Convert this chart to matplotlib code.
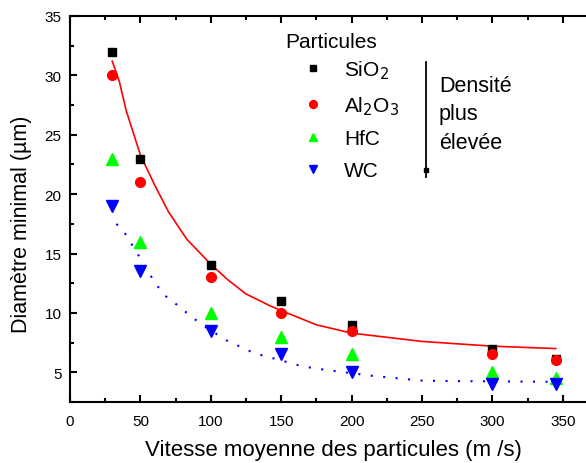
import matplotlib
matplotlib.use("Agg")
import matplotlib.pyplot as plt
from matplotlib.ticker import MultipleLocator

plt.rcParams['font.family'] = ['Liberation Sans', 'DejaVu Sans']

# vitesse (m/s)
vitesse = [30, 50, 100, 150, 200, 300, 345]
sio2 = [32, 23, 14, 11, 9, 7, 6.1]
al2o3 = [30, 21, 13, 10, 8.5, 6.5, 6]
hfc = [23, 16, 10, 8, 6.5, 5, 4.5]
wc = [19, 13.5, 8.5, 6.5, 5, 4, 4]

# courbes de tendance
fit_red_x = [30, 35, 40, 50, 60, 70, 83, 100, 112, 125, 142, 150, 175, 200, 250, 300, 345]
fit_red_y = [31.2, 29.5, 27, 23.3, 20.8, 18.5, 16.2, 14.1, 12.8, 11.6, 10.6, 10.2, 9.0, 8.3, 7.6, 7.2, 7.0]
fit_blue_x = [33, 39, 50, 60, 67, 78, 86, 95, 111, 131, 150, 165, 182, 215, 250, 283, 345]
fit_blue_y = [17.5, 16.7, 14.6, 12.6, 11.5, 10.5, 9.7, 8.9, 7.7, 6.6, 6.0, 5.5, 5.2, 4.7, 4.3, 4.25, 4.2]

fig = plt.figure(figsize=(5.86, 4.64), dpi=100)
ax = fig.add_axes([70/586, 1-403/464, 1-70/586, (403-17)/464])

ax.plot(fit_red_x, fit_red_y, color='red', lw=1.2)
ax.plot(fit_blue_x, fit_blue_y, color='blue', lw=1.5, ls=(0, (1, 5)))

ax.plot(vitesse, sio2, 's', color='black', ms=5.5, ls='none', label='SiO$_2$')
ax.plot(vitesse, al2o3, 'o', color='red', ms=7, ls='none', label='Al$_2$O$_3$')
ax.plot(vitesse, hfc, '^', color='#00ff00', ms=8, ls='none', label='HfC')
ax.plot(vitesse, wc, 'v', color='blue', ms=8, ls='none', label='WC')

ax.set_xlim(0, 366.5)
ax.set_ylim(2.5, 35)
ax.xaxis.set_major_locator(MultipleLocator(50))
ax.xaxis.set_minor_locator(MultipleLocator(25))
ax.yaxis.set_major_locator(MultipleLocator(5))
ax.yaxis.set_minor_locator(MultipleLocator(2.5))
ax.tick_params(which='both', direction='in', top=True, right=False, width=1.5, labelsize=11)
ax.tick_params(which='major', length=5)
ax.tick_params(which='minor', length=3)
ax.tick_params(axis='x', pad=9)
ax.tick_params(axis='y', pad=6)
ax.set_yticks([5, 10, 15, 20, 25, 30, 35])
for s in ['left', 'bottom', 'top']:
    ax.spines[s].set_linewidth(1.5)
ax.spines['right'].set_visible(False)

ax.set_xlabel('Vitesse moyenne des particules (m /s)', fontsize=16)
ax.set_ylabel('Diamètre minimal (µm)', fontsize=15.5)
ax.xaxis.set_label_coords(0.51, -0.097)
ax.yaxis.set_label_coords(-0.073, 0.464)

fig.text(285/586, 1-42/464, 'Particules', fontsize=15, va='center')
leg = ax.legend(loc='upper left', bbox_to_anchor=(222/516, 0.917),
                frameon=False, fontsize=15, handletextpad=1.0,
                labelspacing=0.62, borderpad=0, handlelength=1.0, markerscale=0.8)

# annotation densité
ax.plot([426/586, 426/586], [1-63/464, 1-178/464], color='black', lw=1.3,
        transform=fig.transFigure, clip_on=False)
ax.plot([426/586], [1-171/464], 's', color='black', ms=3,
        transform=fig.transFigure, clip_on=False)
fig.text(439/586, 1-115/464, 'Densité\nplus\nélevée', fontsize=15.5, va='center',
         linespacing=1.45)

fig.savefig('out.png', dpi=100)
